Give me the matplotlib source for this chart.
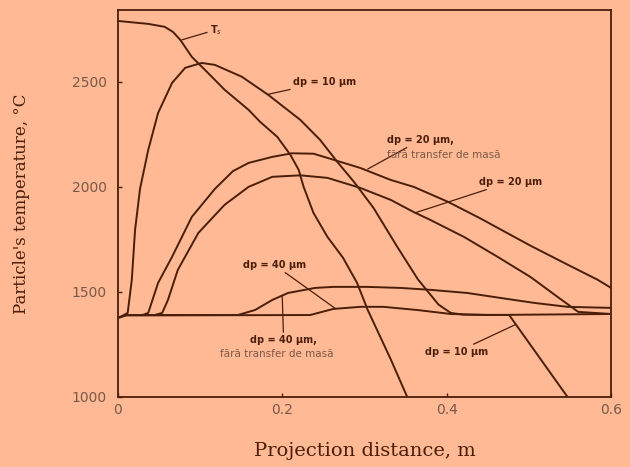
import numpy as np
import matplotlib
matplotlib.use('Agg')
import matplotlib.pyplot as plt

# values (x in m, T in deg C)
ts_x = [0, 0.037, 0.057, 0.067, 0.076, 0.090, 0.106, 0.130, 0.159, 0.173, 0.194, 0.210, 0.220, 0.226, 0.238,
        0.255, 0.274, 0.291, 0.304, 0.332, 0.352]
ts_t = [2790, 2776, 2762, 2738, 2700, 2619, 2557, 2462, 2367, 2310, 2238, 2152, 2081, 2000, 1876,
        1762, 1662, 1543, 1414, 1179, 1000]

d10_x = [0.005, 0.012, 0.017, 0.021, 0.027, 0.037, 0.049, 0.066, 0.082, 0.102, 0.118, 0.151, 0.183, 0.222,
         0.246, 0.267, 0.287, 0.311, 0.340, 0.365, 0.390, 0.405, 0.420, 0.476, 0.547]
d10_t = [1385, 1400, 1557, 1795, 1990, 2176, 2352, 2495, 2567, 2590, 2581, 2524, 2438, 2319,
         2224, 2119, 2025, 1900, 1714, 1560, 1440, 1400, 1392, 1390, 1000]

d20nm_x = [0.030, 0.037, 0.049, 0.066, 0.090, 0.118, 0.140, 0.159, 0.188, 0.212, 0.238, 0.255, 0.295, 0.332,
           0.360, 0.401, 0.441, 0.462, 0.502, 0.543, 0.584, 0.600]
d20nm_t = [1390, 1400, 1543, 1667, 1857, 1990, 2075, 2114, 2143, 2160, 2158, 2138, 2090, 2033,
           2000, 1930, 1850, 1805, 1720, 1638, 1557, 1519]

d20_x = [0.045, 0.054, 0.061, 0.073, 0.098, 0.130, 0.159, 0.188, 0.222, 0.255, 0.295, 0.332, 0.360, 0.380,
         0.421, 0.462, 0.502, 0.535, 0.560, 0.600]
d20_t = [1390, 1400, 1462, 1605, 1781, 1915, 2000, 2048, 2055, 2043, 1995, 1938, 1880, 1843,
         1762, 1667, 1571, 1476, 1405, 1395]

d40nm_x = [0, 0.010, 0.146, 0.167, 0.188, 0.207, 0.240, 0.262, 0.303, 0.344, 0.380, 0.425, 0.466, 0.506,
           0.547, 0.600]
d40nm_t = [1378, 1390, 1390, 1414, 1462, 1495, 1519, 1524, 1524, 1519, 1510, 1495, 1471, 1448,
           1429, 1424]

d40_x = [0, 0.010, 0.234, 0.262, 0.295, 0.323, 0.364, 0.405, 0.447, 0.600]
d40_t = [1375, 1388, 1390, 1419, 1429, 1429, 1414, 1395, 1390, 1395]

x_ticks = [0, 0.2, 0.4, 0.6]
x_tick_labels = ['0', '0.2', '0.4', '0.6']
y_ticks = [1000, 1500, 2000, 2500]

bg = '#FFB994'
ink = '#4a1e0a'
grey = '#7a5848'

fig = plt.figure(figsize=(6.3, 4.67), dpi=100, facecolor=bg)
ax = fig.add_axes([0.187, 0.150, 0.783, 0.829], facecolor=bg)

for xs, ts in [(ts_x, ts_t), (d10_x, d10_t), (d20nm_x, d20nm_t), (d20_x, d20_t),
               (d40nm_x, d40nm_t), (d40_x, d40_t)]:
    ax.plot(xs, ts, color=ink, lw=1.4, solid_joinstyle='round')

ax.set_xlim(0, 0.6)
ax.set_ylim(1000, 2843)
ax.set_xticks(x_ticks)
ax.set_xticklabels(x_tick_labels)
ax.set_yticks(y_ticks)
ax.tick_params(direction='in', length=3, width=1, colors=ink, labelcolor=grey, labelsize=10)
ax.tick_params(axis='y', pad=8)
ax.tick_params(axis='x', pad=4)
for s in ax.spines.values():
    s.set_color(ink)
    s.set_linewidth(1.3)

ax.set_xlabel('Projection distance, m', family='DejaVu Serif', fontsize=14, color=ink, labelpad=18)
ax.set_ylabel("Particle's temperature, \u00b0C", family='DejaVu Serif', fontsize=12, color=ink, labelpad=30)

lbl = dict(fontsize=7, color=ink, fontweight='bold', va='center')
sub = dict(fontsize=7.5, color=grey, va='center')
lead = dict(arrowstyle='-', color=ink, lw=0.9, shrinkA=0, shrinkB=0)

ax.annotate('T$_s$', xy=(0.078, 2700), xytext=(0.112, 2748), arrowprops=lead, **lbl)
ax.annotate('dp = 10 \u00b5m', xy=(0.182, 2440), xytext=(0.213, 2500), arrowprops=lead, **lbl)
ax.annotate('dp = 20 \u00b5m,', xy=(0.304, 2085), xytext=(0.328, 2224), arrowprops=lead, **lbl)
ax.text(0.328, 2152, 'f\u0103r\u0103 transfer de mas\u0103', **sub)
ax.annotate('dp = 20 \u00b5m', xy=(0.362, 1877), xytext=(0.439, 2024), arrowprops=lead, **lbl)
ax.annotate('dp = 40 \u00b5m', xy=(0.265, 1420), xytext=(0.152, 1629), arrowprops=lead, **lbl)
ax.annotate('dp = 40 \u00b5m,', xy=(0.200, 1480), xytext=(0.161, 1271), arrowprops=lead, **lbl)
ax.text(0.124, 1205, 'f\u0103r\u0103 transfer de mas\u0103', **sub)
ax.annotate('dp = 10 \u00b5m', xy=(0.484, 1345), xytext=(0.374, 1214), arrowprops=lead, **lbl)

fig.savefig('out.png', dpi=100, facecolor=bg)
